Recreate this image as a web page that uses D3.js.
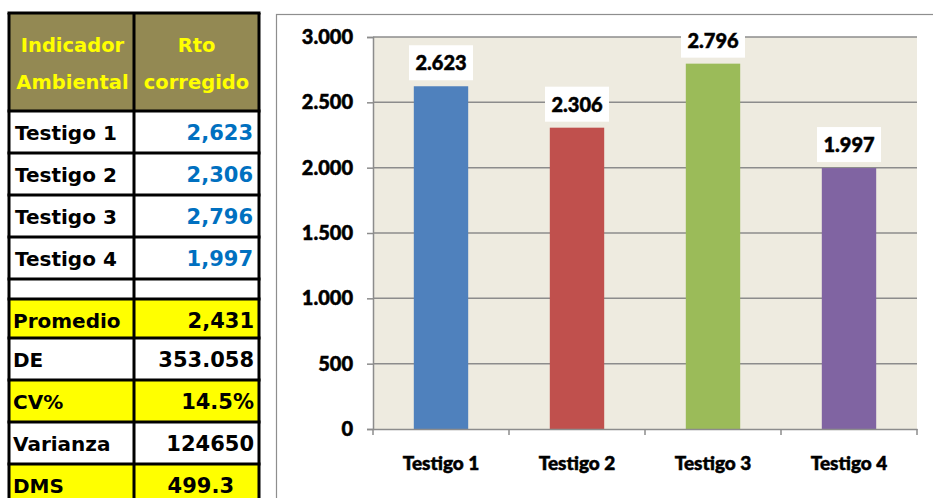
<!DOCTYPE html>
<html><head><meta charset="utf-8">
<script src="https://cdn.jsdelivr.net/npm/d3@7"></script>
<style>body{margin:0;background:#fff;} svg{display:block;}</style>
</head><body>
<svg id="c" width="933" height="498"></svg>
<script>
const categories = ["Testigo 1","Testigo 2","Testigo 3","Testigo 4"];
const values = [2623, 2306, 2796, 1997];
const barColors = ["#4F81BD","#C0504D","#9BBB59","#8064A2"];
const yTicks = [0,500,1000,1500,2000,2500,3000];
const tableValues = ["2,623","2,306","2,796","1,997"];
const statLabels = ["Promedio","DE","CV%","Varianza","DMS"];
const statValues = ["2,431","353.058","14.5%","124650","499.3"];
const statHighlight = [true,false,true,false,true];

(function(){
const svg = d3.select("#c");
const tFont = "'DejaVu Sans', sans-serif";
const cFont = "Lato, 'Open Sans', sans-serif";

// ---- Table ----
const tx0 = 9, tx1 = 134, tx2 = 259;
const rowsY = [111,153,195,237,279];
const g = svg.append("g");
g.append("rect").attr("x",tx0).attr("y",13).attr("width",tx2-tx0).attr("height",98).attr("fill","#938953");
const hdr = (xx,yy,t)=>g.append("text").attr("x",xx).attr("y",yy).attr("text-anchor","middle").attr("font-family",tFont).attr("font-weight","bold").attr("font-size",19.5).attr("fill","#FFFF00").text(t);
hdr((tx0+tx1)/2+1,52,"Indicador");
hdr((tx0+tx1)/2+1,89,"Ambiental");
hdr((tx1+tx2)/2,52,"Rto");
hdr((tx1+tx2)/2,89,"corregido");
categories.forEach((c,i)=>{
  const y0 = rowsY[i];
  g.append("text").attr("x",15).attr("y",y0+29).attr("font-family",tFont).attr("font-weight","bold").attr("font-size",20).attr("fill","#000").text(c);
  g.append("text").attr("x",253).attr("y",y0+29).attr("text-anchor","end").attr("font-family",tFont).attr("font-weight","bold").attr("font-size",21).attr("fill","#0070C0").text(tableValues[i]);
});
const statY = [299,338,380,422,464,506];
statLabels.forEach((s,i)=>{
  const y0 = statY[i], y1 = statY[i+1];
  if (statHighlight[i]) g.append("rect").attr("x",tx0).attr("y",y0).attr("width",tx2-tx0).attr("height",y1-y0).attr("fill","#FFFF00");
  g.append("text").attr("x",13).attr("y",y0+29).attr("font-family",tFont).attr("font-weight","bold").attr("font-size",20).attr("fill","#000").text(s);
  g.append("text").attr("x",i===4?234:254).attr("y",y0+29).attr("text-anchor","end").attr("font-family",tFont).attr("font-weight","bold").attr("font-size",21).attr("fill","#000").text(statValues[i]);
});
const hLines = [13,111,153,195,237,279,299,338,380,422,464];
hLines.forEach(yy=>g.append("line").attr("x1",tx0-1.5).attr("x2",tx2+1.5).attr("y1",yy).attr("y2",yy).attr("stroke","#000").attr("stroke-width",3));
[tx0,tx1,tx2].forEach(xx=>g.append("line").attr("x1",xx).attr("x2",xx).attr("y1",13).attr("y2",498).attr("stroke","#000").attr("stroke-width",3));

// ---- Chart ----
svg.append("rect").attr("x",276.5).attr("y",14.5).attr("width",700).attr("height",520).attr("fill","#fff").attr("stroke","#8e8e8e").attr("stroke-width",1.2);

const pl = 373, pr = 917, pt = 37, pb = 429;
const x = d3.scaleBand().domain(categories).range([pl,pr]).paddingInner(0.6).paddingOuter(0.3);
const y = d3.scaleLinear().domain([0,3000]).range([pb,pt]);

svg.append("rect").attr("x",pl).attr("y",pt).attr("width",pr-pl).attr("height",pb-pt).attr("fill","#EEEBE0");
svg.append("g").selectAll("line").data(yTicks.filter(d=>d>0)).join("line")
  .attr("x1",pl).attr("x2",pr).attr("y1",d=>y(d)).attr("y2",d=>y(d))
  .attr("stroke","#8c8c8c").attr("stroke-width",1.5);

svg.append("g").selectAll("rect").data(values).join("rect")
  .attr("x",(d,i)=>x(categories[i])).attr("width",x.bandwidth())
  .attr("y",d=>y(d)).attr("height",d=>pb-y(d))
  .attr("fill",(d,i)=>barColors[i]);

const heavy = sel => sel.attr("font-family",cFont).attr("font-weight",900).attr("fill","#000")
  .attr("stroke","#000").attr("stroke-width",0.5);

const yAxis = d3.axisLeft(y).tickValues(yTicks).tickSize(6).tickPadding(14)
  .tickFormat(d=>d3.format(",")(d).replace(/,/g,"."));
const ya = svg.append("g").attr("transform",`translate(${pl},0)`).call(yAxis);
ya.select(".domain").attr("stroke","#8c8c8c").attr("stroke-width",1.5);
ya.selectAll(".tick line").attr("stroke","#8c8c8c").attr("stroke-width",1.5);
heavy(ya.selectAll("text")).attr("font-size",20);

const xa = svg.append("g").attr("transform",`translate(0,${pb})`).call(d3.axisBottom(x).tickSize(0).tickPadding(28));
xa.select(".domain").attr("stroke","#8c8c8c").attr("stroke-width",1.5);
heavy(xa.selectAll("text")).attr("font-size",19);
const edges = [pl].concat(categories.map(c=>x(c)+x.bandwidth()+(x.step()-x.bandwidth())/2));
svg.append("g").selectAll("line").data(edges).join("line")
  .attr("x1",d=>d).attr("x2",d=>d).attr("y1",pb).attr("y2",pb+6)
  .attr("stroke","#8c8c8c").attr("stroke-width",1.5);

const lf = d3.format(",");
const lbl = svg.append("g").selectAll("g").data(values).join("g")
  .attr("transform",(d,i)=>`translate(${x(categories[i])+x.bandwidth()/2},${y(d)-6})`);
lbl.append("rect").attr("x",-32).attr("y",-35).attr("width",64).attr("height",35).attr("fill","#fff");
heavy(lbl.append("text").attr("y",-10).attr("text-anchor","middle")).attr("font-size",20)
  .text(d=>lf(d).replace(/,/g,"."));
})();
</script>
</body></html>
